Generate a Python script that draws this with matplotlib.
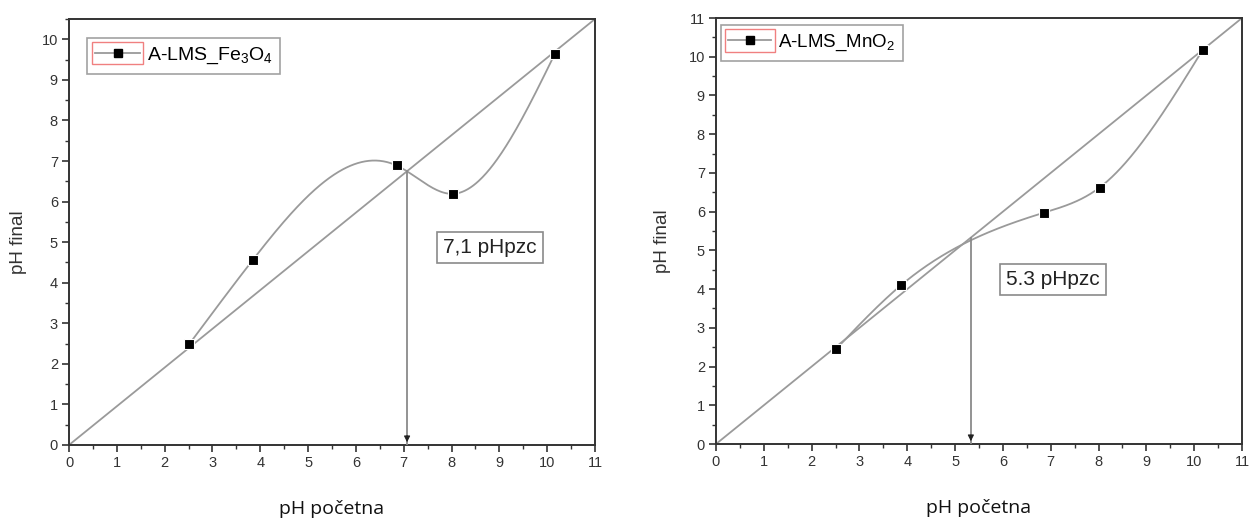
import numpy as np
import matplotlib
matplotlib.use("Agg")
import matplotlib.pyplot as plt
from matplotlib.patches import Rectangle
from matplotlib.transforms import IdentityTransform
from matplotlib.ticker import MultipleLocator

plt.rcParams["font.family"] = ["Liberation Sans", "DejaVu Sans"]
plt.rcParams["mathtext.default"] = "regular"

# A-LMS_Fe3O4
fe_x = [2.51, 3.85, 6.85, 8.02, 10.16]
fe_y = [2.48, 4.57, 6.89, 6.19, 9.64]
fe_pzc = 7.07
fe_ylim = 10.5
fe_label = r"A-LMS_Fe$_3$O$_4$"
fe_note = "7,1 pHpzc"

# A-LMS_MnO2
mn_x = [2.51, 3.87, 6.85, 8.02, 10.18]
mn_y = [2.45, 4.10, 5.97, 6.62, 10.18]
mn_pzc = 5.33
mn_ylim = 11.0
mn_label = r"A-LMS_MnO$_2$"
mn_note = "5.3 pHpzc"

XMAX = 11
GRAY = "#9a9a9a"
DARK = "#333333"


def natural_spline(x, y, n=400):
    x = np.asarray(x, float); y = np.asarray(y, float)
    h = np.diff(x); m = len(x)
    A = np.zeros((m, m)); b = np.zeros(m)
    A[0, 0] = A[-1, -1] = 1
    for i in range(1, m - 1):
        A[i, i - 1], A[i, i], A[i, i + 1] = h[i - 1], 2 * (h[i - 1] + h[i]), h[i]
        b[i] = 3 * ((y[i + 1] - y[i]) / h[i] - (y[i] - y[i - 1]) / h[i - 1])
    c = np.linalg.solve(A, b)
    bc = (y[1:] - y[:-1]) / h - h * (2 * c[:-1] + c[1:]) / 3
    d = (c[1:] - c[:-1]) / (3 * h)
    xs = np.linspace(x[0], x[-1], n)
    k = np.clip(np.searchsorted(x, xs) - 1, 0, m - 2)
    dx = xs - x[k]
    return xs, y[k] + bc[k] * dx + c[k] * dx ** 2 + d[k] * dx ** 3


def panel(ax, xs, ys, ylim, pzc, label, note, note_xy, ymax_tick, legend_box, leg_fs, lab_x):
    ax.set_xlim(0, XMAX); ax.set_ylim(0, ylim)
    # diagonal corner to corner
    ax.plot([0, XMAX], [0, ylim], color=GRAY, lw=1.3, zorder=2)
    sx, sy = natural_spline(xs, ys)
    ax.plot(sx, sy, color=GRAY, lw=1.3, zorder=2)
    ax.plot(xs, ys, ls="none", marker="s", ms=7.6, color="black", mec="white", mew=0.8, zorder=4)
    pzc_y = pzc * ylim / XMAX
    ax.plot([pzc, pzc], [pzc_y, 0], color="#8a8a8a", lw=1.3, zorder=3)
    ax.annotate("", xy=(pzc, 0), xytext=(pzc, 0.3),
                arrowprops=dict(arrowstyle="-|>", color="#222222", lw=0.8, mutation_scale=9),
                zorder=5)
    ax.text(note_xy[0], note_xy[1], note, fontsize=15, color="#222222", ha="center", va="center",
            bbox=dict(boxstyle="square,pad=0.3", fc="white", ec="#8a8a8a", lw=1.2))

    h, = ax.plot([], [], color=GRAY, lw=1.3, marker="s", ms=6, mfc="black", mec="black")
    leg = ax.legend([h], [label], loc="upper left", bbox_to_anchor=legend_box,
                    fontsize=leg_fs, frameon=True, fancybox=False, edgecolor="#8a8a8a",
                    handlelength=2.3, handletextpad=0.35, borderpad=0.4, borderaxespad=0)
    leg.get_frame().set_linewidth(1.2)

    ax.xaxis.set_major_locator(MultipleLocator(1)); ax.xaxis.set_minor_locator(MultipleLocator(0.5))
    ax.yaxis.set_major_locator(MultipleLocator(1)); ax.yaxis.set_minor_locator(MultipleLocator(0.5))
    ax.set_yticks(range(0, ymax_tick + 1))
    ax.tick_params(which="both", direction="out", color=DARK, top=False, right=False)
    ax.tick_params(which="major", length=5, width=1.2, labelsize=10.5, labelcolor=DARK, pad=3)
    ax.tick_params(which="minor", length=3, width=1.0)
    for s in ax.spines.values():
        s.set_color(DARK); s.set_linewidth(1.4)
    ax.set_xlabel("pH početna", fontsize=14, family=["Open Sans", "DejaVu Sans"], color="#111111")
    ax.xaxis.set_label_coords(0.5, -0.13)
    ax.set_ylabel("pH final", fontsize=13.5, color=DARK)
    ax.yaxis.set_label_coords(lab_x, 0.475)
    return leg


fig = plt.figure(figsize=(12.51, 5.2), dpi=100)
ax1 = fig.add_axes([69 / 1251, 75 / 520, 526 / 1251, 426 / 520])
ax2 = fig.add_axes([716 / 1251, 76 / 520, 526 / 1251, 426 / 520])

leg1 = panel(ax1, fe_x, fe_y, fe_ylim, fe_pzc, fe_label, fe_note, (8.8, 4.87), 10,
             (0.035, 0.955), 14, -0.08)
leg2 = panel(ax2, mn_x, mn_y, mn_ylim, mn_pzc, mn_label, mn_note, (7.05, 4.25), 11,
             (0.009, 0.983), 13.5, -0.085)

# red highlight box around legend symbol
fig.canvas.draw()
r = fig.canvas.get_renderer()
for leg in (leg1, leg2):
    bb = leg.legend_handles[0].get_window_extent(r)
    fig.add_artist(Rectangle((bb.x0 + 1, bb.y0 - 7), bb.width - 2, bb.height + 14, fill=False,
                             ec="#f08080", lw=1.0, transform=IdentityTransform(), zorder=10))

fig.savefig("out.png", dpi=100)
